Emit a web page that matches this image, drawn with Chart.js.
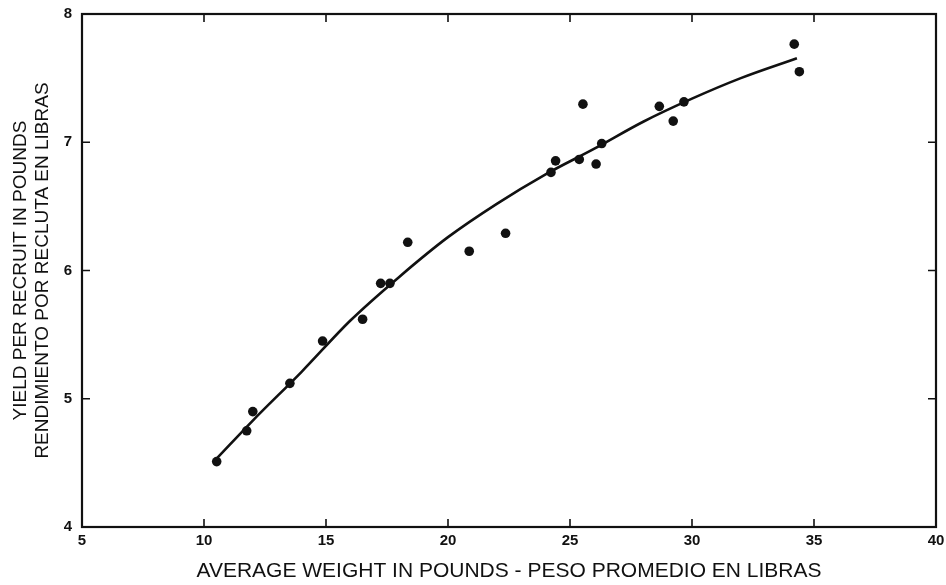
<!DOCTYPE html>
<html>
<head>
<meta charset="utf-8">
<script src="https://cdn.jsdelivr.net/npm/chart.js@4.4.1/dist/chart.umd.min.js"></script>
<style>
  html, body { margin: 0; padding: 0; background: #fff; }
  #yieldChart { display: block; }
</style>
</head>
<body>
<canvas id="yieldChart" width="946" height="585"></canvas>
<script>
// observed points: average weight (lb) vs yield per recruit (lb)
const weights = [10.52, 11.75, 12.0, 13.52, 14.86, 16.5, 17.24, 17.62, 18.35, 20.87, 22.36,
                 24.22, 24.41, 25.38, 25.53, 26.07, 26.3, 28.66, 29.23, 29.67, 34.19, 34.4];
const yields = [4.51, 4.75, 4.9, 5.12, 5.45, 5.62, 5.9, 5.9, 6.22, 6.15, 6.29,
                6.765, 6.855, 6.866, 7.297, 6.83, 6.99, 7.28, 7.165, 7.315, 7.765, 7.55];

// fitted curve
const curveWeights = [10.5, 12, 14, 16, 18, 20, 22, 24, 26, 28, 30, 32, 34.3];
const curveYields = [4.53, 4.83, 5.21, 5.61, 5.95, 6.26, 6.52, 6.75, 6.95, 7.16, 7.34, 7.5, 7.655];

const xTicks = [5, 10, 15, 20, 25, 30, 35, 40];
const yTicks = [4, 5, 6, 7, 8];

const xTitle = 'AVERAGE WEIGHT IN POUNDS - PESO PROMEDIO EN LIBRAS';
const yTitle = ['YIELD PER RECRUIT IN POUNDS', 'RENDIMIENTO POR RECLUTA EN LIBRAS'];

const fontFamily = '"Liberation Sans", Arial, Helvetica, sans-serif';

// box around the plot with tick marks pointing inward on all four sides
const frame = {
    id: 'frame',
    afterDatasetsDraw(chart) {
        const { ctx, chartArea: a, scales } = chart;
        const len = 8;
        ctx.save();
        ctx.strokeStyle = '#111';
        ctx.lineWidth = 1.6;
        scales.x.ticks.forEach(t => {
            const px = scales.x.getPixelForValue(t.value);
            ctx.beginPath();
            ctx.moveTo(px, a.bottom); ctx.lineTo(px, a.bottom - len);
            ctx.moveTo(px, a.top); ctx.lineTo(px, a.top + len);
            ctx.stroke();
        });
        scales.y.ticks.forEach(t => {
            const py = scales.y.getPixelForValue(t.value);
            ctx.beginPath();
            ctx.moveTo(a.left, py); ctx.lineTo(a.left + len, py);
            ctx.moveTo(a.right, py); ctx.lineTo(a.right - len, py);
            ctx.stroke();
        });
        ctx.lineWidth = 2.2;
        ctx.strokeRect(a.left, a.top, a.right - a.left, a.bottom - a.top);
        ctx.restore();
    }
};

const ctx = document.getElementById('yieldChart').getContext('2d');
new Chart(ctx, {
    type: 'scatter',
    data: {
        datasets: [
            {
                label: 'fit',
                data: curveWeights.map((w, i) => ({ x: w, y: curveYields[i] })),
                showLine: true,
                borderColor: '#111',
                borderWidth: 2.6,
                pointRadius: 0,
                cubicInterpolationMode: 'monotone',
                fill: false
            },
            {
                label: 'observed',
                data: weights.map((w, i) => ({ x: w, y: yields[i] })),
                showLine: false,
                pointRadius: 4.8,
                pointBackgroundColor: '#111',
                pointBorderColor: '#111',
                pointBorderWidth: 0
            }
        ]
    },
    options: {
        responsive: false,
        animation: false,
        layout: { padding: { top: 14, right: 10, left: 0, bottom: 0 } },
        plugins: {
            legend: { display: false },
            tooltip: { enabled: false }
        },
        scales: {
            x: {
                type: 'linear',
                min: 5,
                max: 40,
                afterBuildTicks: s => { s.ticks = xTicks.map(v => ({ value: v })); },
                afterFit: s => { s.height = 58; s.paddingRight = 0; },
                grid: { display: false, drawTicks: false },
                border: { display: false },
                ticks: {
                    padding: 5,
                    color: '#111',
                    font: { family: fontFamily, size: 15, weight: 'bold' }
                },
                title: {
                    display: true,
                    text: xTitle,
                    color: '#111',
                    padding: { top: 0, bottom: 1 },
                    font: { family: fontFamily, size: 21 }
                }
            },
            y: {
                type: 'linear',
                min: 4,
                max: 8,
                afterBuildTicks: s => { s.ticks = yTicks.map(v => ({ value: v })); },
                afterFit: s => { s.width = 82; s.paddingTop = 0; s.paddingBottom = 0; },
                grid: { display: false, drawTicks: false },
                border: { display: false },
                ticks: {
                    padding: 10,
                    color: '#111',
                    font: { family: fontFamily, size: 15, weight: 'bold' }
                },
                title: {
                    display: true,
                    text: yTitle,
                    color: '#111',
                    padding: { top: 9, bottom: 0 },
                    font: { family: fontFamily, size: 19, lineHeight: 1.2 }
                }
            }
        }
    },
    plugins: [frame]
});
</script>
</body>
</html>
